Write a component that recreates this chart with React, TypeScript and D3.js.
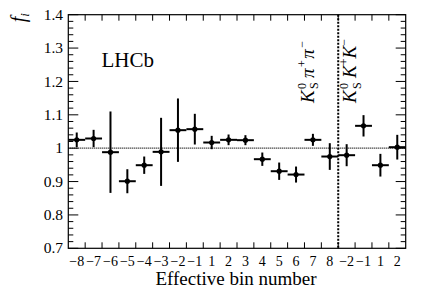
import * as d3 from 'd3';
import { useEffect, useRef } from 'react';

const binLabels = ['−8', '−7', '−6', '−5', '−4', '−3', '−2', '−1', '1', '2', '3', '4', '5', '6', '7', '8', '−2', '−1', '1', '2'];
const fValues = [1.025, 1.029, 0.988, 0.901, 0.949, 0.989, 1.054, 1.057, 1.017, 1.025, 1.024, 0.967, 0.931, 0.921, 1.025, 0.975, 0.979, 1.067, 0.949, 1.003];
const fErrors = [0.022, 0.026, 0.122, 0.036, 0.026, 0.102, 0.095, 0.046, 0.02, 0.016, 0.015, 0.02, 0.026, 0.024, 0.018, 0.04, 0.033, 0.032, 0.034, 0.037];
const yMajorTicks = [0.7, 0.8, 0.9, 1, 1.1, 1.2, 1.3, 1.4];
const yTickLabels = ['0.7', '0.8', '0.9', '1', '1.1', '1.2', '1.3', '1.4'];
const kspiCount = 16; // bins of K0S pi+ pi-, the rest are K0S K+ K-

const FONT = '"Liberation Serif", "Times New Roman", serif';

const App = () => {
  const ref = useRef<SVGSVGElement | null>(null);

  useEffect(() => {
    if (!ref.current) return;
    const svg = d3.select(ref.current);
    svg.selectAll('*').remove();

    const left = 68.3, right = 405.7, top = 14.7, bottom = 248.3;

    const x = d3.scaleBand<number>()
      .domain(d3.range(binLabels.length))
      .range([left, right])
      .padding(0);
    const y = d3.scaleLinear().domain([0.7, 1.4]).range([bottom, top]);
    const bw = x.bandwidth();

    // reference line at 1
    svg.append('line')
      .attr('x1', left).attr('x2', right)
      .attr('y1', y(1)).attr('y2', y(1))
      .attr('stroke', '#000').attr('stroke-width', 1.2)
      .attr('stroke-dasharray', '1,1');

    // separator between the two decay modes
    const sepX = x(kspiCount)!;
    svg.append('line')
      .attr('x1', sepX).attr('x2', sepX)
      .attr('y1', top).attr('y2', bottom)
      .attr('stroke', '#000').attr('stroke-width', 2)
      .attr('stroke-dasharray', '2,1.5');

    // frame
    svg.append('rect')
      .attr('x', left).attr('y', top)
      .attr('width', right - left).attr('height', bottom - top)
      .attr('fill', 'none').attr('stroke', '#000').attr('stroke-width', 1.2);

    // x ticks at bin edges, top and bottom
    const edges = d3.range(1, binLabels.length).map(i => x(i)!);
    const ticks = svg.append('g').attr('stroke', '#000').attr('stroke-width', 1);
    edges.forEach(ex => {
      ticks.append('line').attr('x1', ex).attr('x2', ex).attr('y1', bottom).attr('y2', bottom - 6);
      ticks.append('line').attr('x1', ex).attr('x2', ex).attr('y1', top).attr('y2', top + 6);
    });

    // y ticks, left and right
    const minor = d3.range(0.7, 1.4001, 0.02);
    minor.forEach(v => {
      const isMajor = Math.abs(v * 10 - Math.round(v * 10)) < 1e-6;
      const len = isMajor ? 10 : 5;
      ticks.append('line').attr('x1', left).attr('x2', left + len).attr('y1', y(v)).attr('y2', y(v));
      ticks.append('line').attr('x1', right).attr('x2', right - len).attr('y1', y(v)).attr('y2', y(v));
    });

    // y tick labels
    svg.append('g')
      .selectAll('text')
      .data(yMajorTicks)
      .enter()
      .append('text')
      .attr('x', 63)
      .attr('y', d => y(d))
      .attr('dy', '0.33em')
      .attr('text-anchor', 'end')
      .attr('font-family', FONT)
      .attr('font-size', 15.5)
      .text((_, i) => yTickLabels[i]);

    // x tick labels
    svg.append('g')
      .selectAll('text')
      .data(binLabels)
      .enter()
      .append('text')
      .attr('x', (_, i) => x(i)! + bw / 2)
      .attr('y', 266)
      .attr('text-anchor', 'middle')
      .attr('font-family', FONT)
      .attr('font-size', 14)
      .text(d => d);

    // axis titles
    svg.append('text')
      .attr('x', 236).attr('y', 285)
      .attr('text-anchor', 'middle')
      .attr('font-family', FONT).attr('font-size', 19)
      .text('Effective bin number');

    const yt = svg.append('text')
      .attr('transform', 'translate(25,13) rotate(-90)')
      .attr('text-anchor', 'end')
      .attr('font-family', FONT).attr('font-size', 20);
    yt.append('tspan').attr('font-style', 'italic').text('f');
    yt.append('tspan').attr('font-style', 'italic').attr('font-size', 13).attr('dy', 4).text('i');

    svg.append('text')
      .attr('x', 101.5).attr('y', 66.7)
      .attr('font-family', FONT).attr('font-size', 21)
      .text('LHCb');

    // rotated decay mode labels
    const modeLabel = (bx: number, parts: [string, string, string], gap: number) => {
      const g = svg.append('g')
        .attr('transform', `translate(${bx},103) rotate(-90)`)
        .attr('font-family', FONT)
        .attr('font-style', 'italic');
      g.append('text').attr('x', 0).attr('y', 0).attr('font-size', 19).text('K');
      g.append('text').attr('x', 14).attr('y', -8).attr('font-size', 12).attr('font-style', 'normal').text('0');
      g.append('text').attr('x', 14).attr('y', 4.5).attr('font-size', 12).attr('font-style', 'normal').text('S');
      const t = g.append('text').attr('x', 25).attr('y', 0).attr('font-size', 19);
      t.append('tspan').text(parts[0]);
      t.append('tspan').attr('font-size', 12).attr('font-style', 'normal').attr('dx', gap).attr('dy', -8).text(parts[1]);
      t.append('tspan').attr('dx', gap).attr('dy', 8).text(parts[0]);
      t.append('tspan').attr('font-size', 12).attr('font-style', 'normal').attr('dx', gap).attr('dy', -8).text(parts[2]);
    };
    modeLabel(313.5, ['π', '+', '−'], 1.5);
    modeLabel(356, ['K', '+', '−'], 0);

    // data points with errors
    const pts = svg.append('g').attr('stroke', '#000').attr('stroke-width', 2);
    fValues.forEach((v, i) => {
      const cx = x(i)! + bw / 2;
      pts.append('line')
        .attr('x1', x(i)!).attr('x2', x(i)! + bw)
        .attr('y1', y(v)).attr('y2', y(v));
      pts.append('line')
        .attr('x1', cx).attr('x2', cx)
        .attr('y1', y(v - fErrors[i])).attr('y2', y(v + fErrors[i]));
      pts.append('circle')
        .attr('cx', cx).attr('cy', y(v)).attr('r', 2.6)
        .attr('fill', '#000').attr('stroke', 'none');
    });
  }, []);

  return (
    <svg
      ref={ref}
      width={427}
      height={289}
      style={{ position: 'absolute', left: 0, top: 0, background: '#fff' }}
    />
  );
};

export default App;
